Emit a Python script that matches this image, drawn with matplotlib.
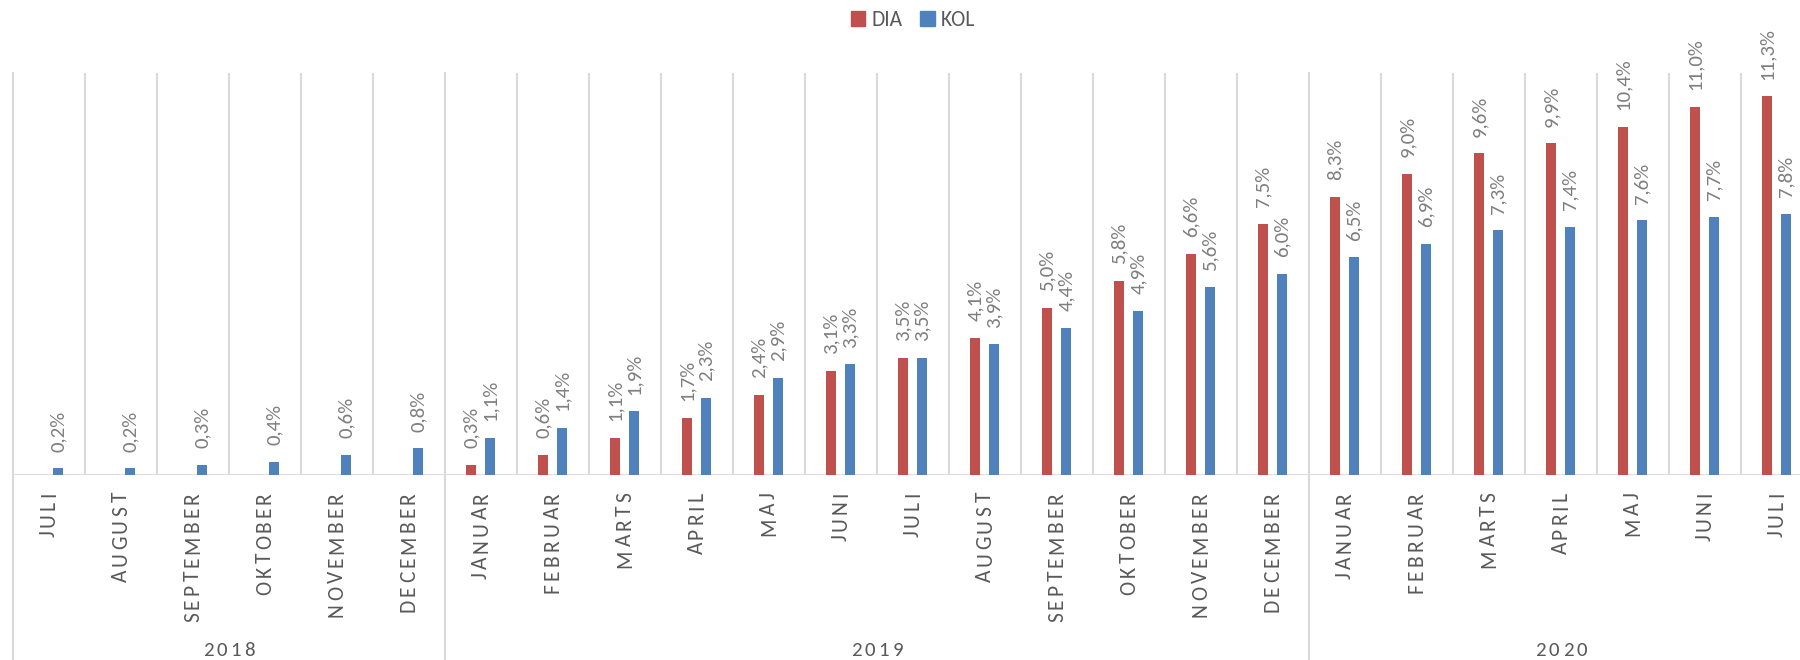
import matplotlib
matplotlib.use("Agg")
import matplotlib.pyplot as plt
import matplotlib.font_manager as fm
from matplotlib.patches import Patch
import numpy as np

months = ["JULI", "AUGUST", "SEPTEMBER", "OKTOBER", "NOVEMBER", "DECEMBER",
          "JANUAR", "FEBRUAR", "MARTS", "APRIL", "MAJ", "JUNI", "JULI",
          "AUGUST", "SEPTEMBER", "OKTOBER", "NOVEMBER", "DECEMBER",
          "JANUAR", "FEBRUAR", "MARTS", "APRIL", "MAJ", "JUNI", "JULI"]
years = ["2018", "2019", "2020"]
year_counts = [6, 12, 7]
dia = [None, None, None, None, None, None,
       0.3, 0.6, 1.1, 1.7, 2.4, 3.1, 3.5, 4.1, 5.0, 5.8, 6.6, 7.5,
       8.3, 9.0, 9.6, 9.9, 10.4, 11.0, 11.3]
kol = [0.2, 0.2, 0.3, 0.4, 0.6, 0.8,
       1.1, 1.4, 1.9, 2.3, 2.9, 3.3, 3.5, 3.9, 4.4, 4.9, 5.6, 6.0,
       6.5, 6.9, 7.3, 7.4, 7.6, 7.7, 7.8]
series_names = ["DIA", "KOL"]

RED = "#C0504D"
BLUE = "#4F81BD"
GRID = "#D9D9D9"
TXT = "#595959"
LBL = "#7F7F7F"

installed = {f.name for f in fm.fontManager.ttflist}
if "Carlito" in installed:
    FAM = ["Carlito", "DejaVu Sans"]
    LBL_FS, MONTH_FS, YEAR_FS, LEG_FS = 15, 15.5, 15, 15.5
elif "Source Sans 3" in installed:
    FAM = ["Source Sans 3", "DejaVu Sans"]
    LBL_FS, MONTH_FS, YEAR_FS, LEG_FS = 15, 15.5, 14.5, 15.5
else:
    FAM = ["Lato", "DejaVu Sans"]
    LBL_FS, MONTH_FS, YEAR_FS, LEG_FS = 14, 14, 13, 15
plt.rcParams["font.family"] = FAM

W, H = 1800, 660
fig = plt.figure(figsize=(W / 100, H / 100), dpi=100)
left, right, top, base = 13, 1813, 73, 475
ax = fig.add_axes([left / W, (H - base) / H, (right - left) / W, (base - top) / H])
n = len(months)
ax.set_xlim(0, n)
ax.set_ylim(0, 12)
for s in ax.spines.values():
    s.set_visible(False)
ax.set_xticks([])
ax.set_yticks([])

x = np.arange(n) + 0.5
dia_vals = [np.nan if v is None else v for v in dia]
bw = 0.14
off_d, off_k = -0.135, 0.128
ax.bar(x + off_d, dia_vals, width=bw, color=RED, zorder=3)
ax.bar(x + off_k, kol, width=bw, color=BLUE, zorder=3)

def fmt(v):
    return f"{v:.1f}%".replace(".", ",")

for series, off in ((dia, off_d), (kol, off_k)):
    for xi, v in zip(x, series):
        if v is None:
            continue
        ax.annotate(fmt(v), (xi + off, v), xytext=(0, 12), textcoords="offset points",
                    rotation=90, ha="center", va="bottom", fontsize=LBL_FS, color=LBL,
                    annotation_clip=False)

# category separators
bounds = np.cumsum([0] + year_counts)
below = (H - base) / (base - top)
for i in range(n + 1):
    if i in bounds:
        ax.axvline(i, ymin=-below, ymax=1, color=GRID, lw=1.5, clip_on=False, zorder=1)
    else:
        ax.axvline(i, ymin=0, ymax=1, color=GRID, lw=1.5, zorder=1)
ax.axhline(0, color=GRID, lw=2, zorder=2)

renderer = fig.canvas.get_renderer()
_wcache = {}

def char_w(ch, fs):
    key = (ch, fs)
    if key not in _wcache:
        t = fig.text(0, 0, ch, fontsize=fs)
        _wcache[key] = t.get_window_extent(renderer).width
        t.remove()
    return _wcache[key]

# letter tracking so that labels span like the reference's spaced lettering
month_gap = max(2.5, (130.0 - sum(char_w(c, MONTH_FS) for c in "SEPTEMBER")) / 8)
year_gap = max(2.5, (52.0 - sum(char_w(c, YEAR_FS) for c in "2018")) / 3)

def vertical_tracked(xpx, ytop_px, s, fs, gap, color):
    cur = ytop_px
    for ch in reversed(s):
        w = char_w(ch, fs)
        yc = cur + w / 2
        fig.text(xpx / W, 1 - yc / H, ch, rotation=90, ha="center", va="center",
                 fontsize=fs, color=color)
        cur += w + gap

def horizontal_tracked(xc_px, yc_px, s, fs, gap, color):
    ws = [char_w(c, fs) for c in s]
    total = sum(ws) + gap * (len(s) - 1)
    cur = xc_px - total / 2
    for ch, w in zip(s, ws):
        fig.text((cur + w / 2) / W, 1 - yc_px / H, ch, ha="center", va="center",
                 fontsize=fs, color=color)
        cur += w + gap

cat_w = (right - left) / n
for i, m in enumerate(months):
    vertical_tracked(left + (i + 0.5) * cat_w, 492, m, MONTH_FS, month_gap, TXT)
for yname, a, b in zip(years, bounds[:-1], bounds[1:]):
    horizontal_tracked(left + (a + b) / 2 * cat_w, 650, yname, YEAR_FS, year_gap, TXT)

handles = [Patch(color=RED, label=series_names[0]), Patch(color=BLUE, label=series_names[1])]
leg = fig.legend(handles=handles, loc="center", bbox_to_anchor=((left + right) / 2 / W, 1 - 20 / H),
                 ncol=2, frameon=False, fontsize=LEG_FS, handlelength=0.68, handleheight=0.68,
                 handletextpad=0.3, columnspacing=0.8)
for t in leg.get_texts():
    t.set_color(TXT)

fig.savefig("out.png", dpi=100)
